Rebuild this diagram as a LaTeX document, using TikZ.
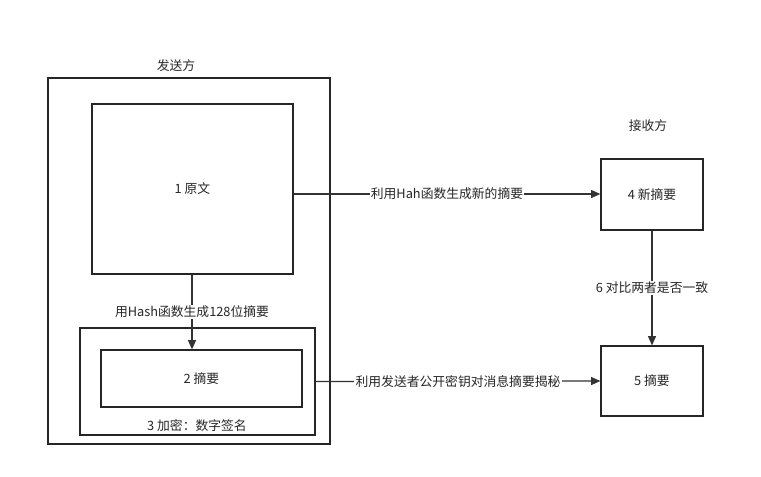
\documentclass[tikz,border=0pt]{standalone}
\usepackage{fontspec}
\setmainfont{Noto Sans CJK SC}
\usetikzlibrary{arrows.meta}
\begin{document}
\begin{tikzpicture}[x=0.75pt,y=-0.75pt,
  lab/.style={font=\fontsize{9.6}{11}\selectfont,text=black!85},
  arr/.style={draw=black!80,line width=0.9pt,-{Triangle[length=7pt,width=6pt]}},
  bg/.style={fill=white,inner sep=1pt}]
\useasboundingbox (0,0) rectangle (761,476);
\draw[draw=black!85,line width=0.9pt] (48,78) rectangle (330,444);
\node[lab] (s) at (176,66) {发送方};
\node[draw=black!85,line width=0.9pt,minimum width=201*0.75pt,minimum height=170*0.75pt,lab] (n1) at (192.5,189) {1 原文};
\node[draw=black!85,line width=0.9pt,minimum width=235*0.75pt,minimum height=107*0.75pt] (n3) at (197.5,381.5) {};
\node[lab] at (197,426) {3 加密：数字签名};
\node[draw=black!85,line width=0.9pt,minimum width=201*0.75pt,minimum height=57*0.75pt,lab] (n2) at (201.5,378.5) {2 摘要};
\node[lab] (r) at (648,126) {接收方};
\node[draw=black!85,line width=0.9pt,minimum width=102*0.75pt,minimum height=71*0.75pt,lab] (n4) at (652,194.5) {4 新摘要};
\node[draw=black!85,line width=0.9pt,minimum width=102*0.75pt,minimum height=70*0.75pt,lab] (n5) at (652,381) {5 摘要};
\draw[arr] (n1.south -| 192,0) -- node[lab,bg,pos=0.5]{用Hash函数生成128位摘要} (n2.north -| 192,0);
\draw[arr] (n1.east |- 0,194) -- node[lab,bg,pos=0.5]{利用Hah函数生成新的摘要} (n4.west |- 0,194);
\draw[arr] (n4) -- node[lab,bg]{6 对比两者是否一致} (n5);
\draw[arr] (n3.east) -- node[lab,bg]{利用发送者公开密钥对消息摘要揭秘} (n5.west);
\end{tikzpicture}
\end{document}
